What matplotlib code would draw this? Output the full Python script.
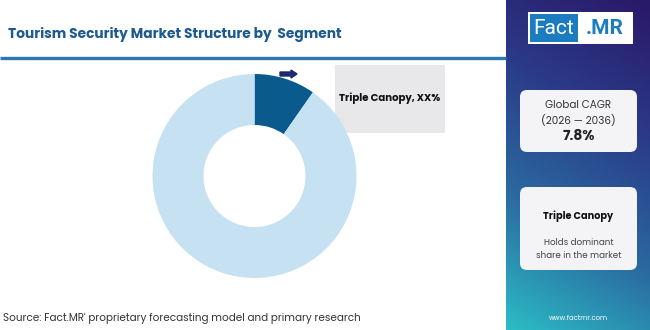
import numpy as np
import matplotlib.pyplot as plt
from matplotlib.patches import Rectangle, FancyBboxPatch, FancyArrow
from matplotlib.colors import LinearSegmentedColormap

# Data
segments = ['Triple Canopy', 'Others']
shares = [9.7, 90.3]
seg_colors = ['#0b5a8e', '#c6e1f2']
title = 'Tourism Security Market Structure by  Segment'
cagr_label = 'Global CAGR'
cagr_period = '(2026 \u2014 2036)'
cagr_value = '7.8%'
leader = 'Triple Canopy'
leader_note = 'Holds dominant\nshare in the market'
source = "Source: Fact.MR' proprietary forecasting model and primary research"

plt.rcParams['font.family'] = ['Poppins', 'Lato', 'DejaVu Sans']

W, H = 650, 330
fig = plt.figure(figsize=(W / 100, H / 100), dpi=100)

# background axes in pixel coordinates
bg = fig.add_axes([0, 0, 1, 1])
bg.set_xlim(0, W)
bg.set_ylim(H, 0)
bg.axis('off')

# sidebar gradient (purple at top, teal towards bottom-left)
cmap = LinearSegmentedColormap.from_list('side', ['#2a1868', '#2a3a88', '#2a6aa0', '#2cbcc5'])
yy, xx = np.mgrid[0:1:200j, 0:1:100j]
grad = np.clip(0.8 * yy + 0.2 * (1 - xx), 0, 1)
bg.imshow(grad, cmap=cmap, aspect='auto', extent=[506, W, H, 0], zorder=0, interpolation='bilinear')

# title + rule
bg.text(8, 35, title, fontsize=9.9, fontweight='bold', color='#1c5a8f', va='center', ha='left')
bg.plot([0, 506], [57.5, 57.5], color='#2b78b6', lw=2.4, solid_capstyle='butt')

# logo
bg.add_patch(Rectangle((528, 12), 105, 32, facecolor='white', edgecolor='none', zorder=2))
bg.add_patch(Rectangle((530, 14), 48, 28, facecolor='#1b7dc0', edgecolor='none', zorder=3))
bg.text(554, 28.5, 'Fact', fontsize=15, color='white', ha='center', va='center', zorder=4,
        family=['Roboto', 'DejaVu Sans'])
bg.text(605, 28.5, '.MR', fontsize=15, color='#1b7dc0', ha='center', va='center', zorder=4,
        fontweight='bold', family=['Roboto', 'DejaVu Sans'])

# sidebar boxes
for y0, y1 in [(90, 152), (187, 270)]:
    bg.add_patch(FancyBboxPatch((520, y0), 117, y1 - y0, boxstyle='round,pad=0,rounding_size=7',
                                facecolor='#f4f4f6', edgecolor='none', zorder=2))
bg.text(578.5, 106, cagr_label, fontsize=7.5, color='#333333', ha='center', va='center', zorder=3)
bg.text(578.5, 121, cagr_period, fontsize=7.5, color='#333333', ha='center', va='center', zorder=3)
bg.text(578.5, 137, cagr_value, fontsize=10, fontweight='bold', color='#222222', ha='center', va='center', zorder=3)
bg.text(578.5, 216, leader, fontsize=7, fontweight='bold', color='#111111', ha='center', va='center', zorder=3)
bg.text(578.5, 249, leader_note, fontsize=6.3, color='#444444', ha='center', va='center',
        linespacing=1.5, zorder=3)
bg.text(578.5, 318, 'www.factmr.com', fontsize=5, color='white', ha='center', va='center', zorder=3)

# source
bg.text(3, 318, source, fontsize=7.5, color='#333333', ha='left', va='center')

# label box + arrow
bg.add_patch(Rectangle((335, 65), 110, 68, facecolor='#e8e7ea', edgecolor='none', zorder=2))
bg.text(390, 98, 'Triple Canopy, XX%', fontsize=7.3, fontweight='bold', color='#111111',
        ha='center', va='center', zorder=3)
bg.add_patch(FancyArrow(280, 74, 11, 0, width=4, head_width=8, head_length=6,
                        length_includes_head=False, color='#1b2a6e', zorder=3))

# donut
cx, cy, r = 254.5, 176, 102
ax = fig.add_axes([(cx - r) / W, (H - cy - r) / H, 2 * r / W, 2 * r / H])
ax.pie(shares, colors=seg_colors, startangle=90, counterclock=False, radius=1,
       wedgeprops=dict(width=0.5, edgecolor='none'))
ax.set_xlim(-1, 1)
ax.set_ylim(-1, 1)
ax.axis('off')

fig.savefig('out.png', dpi=100)
